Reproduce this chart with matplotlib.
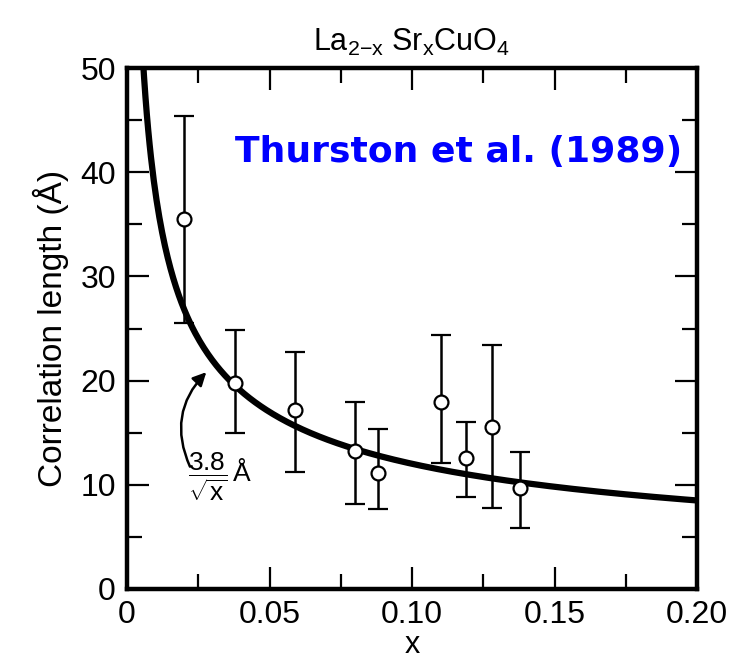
import matplotlib
matplotlib.use("Agg")
import matplotlib.pyplot as plt
from matplotlib.ticker import MultipleLocator
import numpy as np

# measured points (Sr content x, correlation length in Angstrom)
x_pts = [0.020, 0.038, 0.059, 0.080, 0.088, 0.110, 0.119, 0.128, 0.138]
xi_pts = [35.5, 19.8, 17.2, 13.2, 11.1, 17.9, 12.6, 15.5, 9.7]
err_hi = [45.4, 24.9, 22.7, 17.9, 15.4, 24.4, 16.0, 23.4, 13.1]
err_lo = [25.5, 15.0, 11.2, 8.2, 7.7, 12.1, 8.8, 7.8, 5.9]

# fitted curve xi = A / sqrt(x)
A_FIT = 3.8
x_curve = np.linspace(0.0055, 0.2, 400)

x_ticks = [0, 0.05, 0.10, 0.15, 0.20]
x_ticklabels = ["0", "0.05", "0.10", "0.15", "0.20"]
y_ticks = [0, 10, 20, 30, 40, 50]

plt.rcParams["font.family"] = ["Liberation Sans", "DejaVu Sans"]
plt.rcParams["mathtext.fontset"] = "custom"
plt.rcParams["mathtext.rm"] = "Liberation Sans"
plt.rcParams["mathtext.it"] = "Liberation Sans"

fig = plt.figure(figsize=(7.42, 6.62), dpi=100)
ax = fig.add_axes([127 / 742, 73 / 662, 570 / 742, 521 / 662])

ax.plot(x_curve, A_FIT / np.sqrt(x_curve), color="black", lw=4.5, solid_capstyle="butt", zorder=2)

yerr = [np.array(xi_pts) - np.array(err_lo), np.array(err_hi) - np.array(xi_pts)]
ax.errorbar(x_pts, xi_pts, yerr=yerr, fmt="o", ms=10, mfc="white", mec="black", mew=1.6,
            ecolor="black", elinewidth=1.8, capsize=7, capthick=1.8, zorder=3)

ax.set_xlim(0, 0.20)
ax.set_ylim(0, 50)
ax.set_xticks(x_ticks)
ax.set_xticklabels(x_ticklabels)
ax.set_yticks(y_ticks)
ax.xaxis.set_minor_locator(MultipleLocator(0.025))
ax.yaxis.set_minor_locator(MultipleLocator(5))
ax.tick_params(which="both", direction="in", top=True, right=True, width=1.6, labelsize=23, colors="black")
ax.tick_params(which="major", length=16, pad=8)
ax.tick_params(which="minor", length=11)
for s in ax.spines.values():
    s.set_linewidth(3.2)

ax.set_xlabel("x", fontsize=22, labelpad=0)
ax.set_ylabel("Correlation length (Å)", fontsize=24, labelpad=8)
ax.set_title(r"La$_{2\mathrm{-x}}$ Sr$_\mathrm{x}$CuO$_4$", fontsize=22, pad=12)

ax.annotate("", xy=(0.0285, 21.0), xytext=(0.0225, 11.5),
            arrowprops=dict(arrowstyle="-|>", lw=1.8, color="black", mutation_scale=20,
                            connectionstyle="arc3,rad=-0.35"))
ax.text(0.0215, 10.8, r"$\dfrac{3.8}{\sqrt{x}}\,\AA$", fontsize=19, va="center", ha="left")

fig.text(235 / 742, 1 - 152 / 662, "Thurston et al. (1989)", color="blue", fontsize=26,
         fontweight="bold", family="DejaVu Sans", va="center", ha="left")

fig.savefig("out.png", dpi=100)
